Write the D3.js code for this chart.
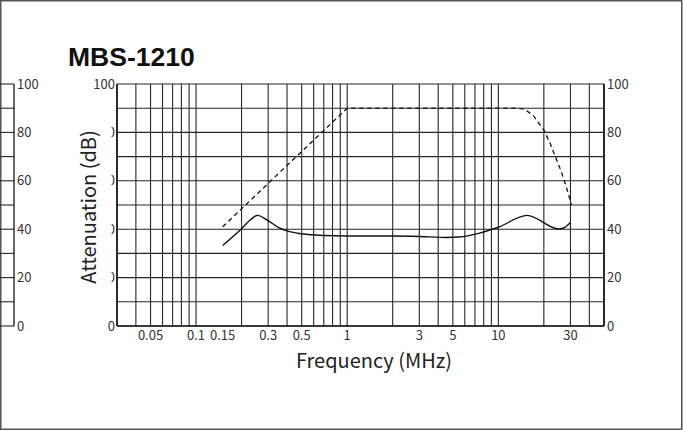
<!DOCTYPE html>
<html>
<head>
<meta charset="utf-8">
<script src="https://cdn.jsdelivr.net/npm/d3@7"></script>
<style>
  body { margin: 0; background: #fff; }
  svg { display: block; }
</style>
</head>
<body>
<svg id="chart" width="683" height="430"></svg>
<script>
// Tick labels on the frequency axis (MHz)
const xTicks = [0.05, 0.1, 0.15, 0.3, 0.5, 1, 3, 5, 10, 30];
const yTicks = [0, 20, 40, 60, 80, 100];

// Dashed curve (upper attenuation)
const dashedFreq = [0.15, 1, 13.5, 15, 17, 20, 22, 24, 26, 28, 30.5];
const dashedDb   = [41, 90, 90, 89.5, 87, 81, 75.5, 69.5, 64, 58, 50];

// Solid curve
const solidFreq = [0.15, 0.2, 0.23, 0.255, 0.3, 0.35, 0.4, 0.5, 0.7, 1, 2, 3, 4.5, 5.5, 7.5, 10, 15.5, 25, 27, 30];
const solidDb   = [33.3, 40.2, 44, 45.7, 43.5, 40.8, 39.3, 38.1, 37.4, 37.2, 37.2, 37, 36.6, 36.8, 38.4, 40.8, 45.7, 40.1, 40.5, 42.8];

const W = 683, H = 430;
const plot = { left: 117, right: 604, top: 84, bottom: 326 };

const svg = d3.select("#chart");

const x = d3.scaleLog().domain([0.03, 50]).range([plot.left, plot.right]);
const y = d3.scaleLinear().domain([0, 100]).range([plot.bottom, plot.top]);

const gridColor = "#262626";
const labelFont = "'Noto Sans CJK JP', 'Noto Sans', sans-serif";

// outer frame of the scanned sheet
svg.append("rect")
    .attr("x", 0.75).attr("y", 0.75)
    .attr("width", W - 2).attr("height", H - 1.5)
    .attr("fill", "none")
    .attr("stroke", "#555")
    .attr("stroke-width", 1.5);

// fragment of neighbouring chart on the left edge
const frag = svg.append("g");
d3.range(0, 101, 10).forEach(v => {
    frag.append("line")
        .attr("x1", 0).attr("x2", 14)
        .attr("y1", y(v)).attr("y2", y(v))
        .attr("stroke", gridColor).attr("stroke-width", 1.1);
});
frag.append("line")
    .attr("x1", 14).attr("x2", 14)
    .attr("y1", y(100)).attr("y2", y(0))
    .attr("stroke", gridColor).attr("stroke-width", 1.4);
frag.selectAll("text")
    .data(yTicks)
    .enter().append("text")
    .attr("x", 17)
    .attr("y", d => y(d))
    .attr("dy", "0.36em")
    .style("font-family", labelFont)
    .style("font-size", "13px")
    .style("fill", "#333")
    .text(d => d);

// vertical grid: every integer multiple within each decade
const vLines = [];
[0.01, 0.1, 1, 10].forEach(dec => {
    for (let k = 1; k <= 9; k++) {
        const f = +(dec * k).toPrecision(3);
        if (f >= 0.03 && f <= 50) vLines.push(f);
    }
});

const grid = svg.append("g");
grid.selectAll(".vgrid")
    .data(vLines)
    .enter().append("line")
    .attr("class", "vgrid")
    .attr("x1", d => x(d)).attr("x2", d => x(d))
    .attr("y1", plot.top).attr("y2", plot.bottom)
    .attr("stroke", gridColor)
    .attr("stroke-width", 1.1);

grid.selectAll(".hgrid")
    .data(d3.range(0, 101, 10))
    .enter().append("line")
    .attr("class", "hgrid")
    .attr("x1", plot.left).attr("x2", plot.right)
    .attr("y1", d => y(d)).attr("y2", d => y(d))
    .attr("stroke", gridColor)
    .attr("stroke-width", 1.1);

// axis frame lines a touch heavier
svg.append("line")
    .attr("x1", plot.left).attr("x2", plot.left)
    .attr("y1", plot.top).attr("y2", plot.bottom)
    .attr("stroke", "#1a1a1a").attr("stroke-width", 1.7);
svg.append("line")
    .attr("x1", plot.right).attr("x2", plot.right)
    .attr("y1", plot.top).attr("y2", plot.bottom)
    .attr("stroke", "#1a1a1a").attr("stroke-width", 1.7);
svg.append("line")
    .attr("x1", plot.left).attr("x2", plot.right)
    .attr("y1", plot.bottom).attr("y2", plot.bottom)
    .attr("stroke", "#1a1a1a").attr("stroke-width", 1.5);

// x tick labels
svg.append("g").selectAll("text")
    .data(xTicks)
    .enter().append("text")
    .attr("x", d => x(d))
    .attr("y", plot.bottom + 14)
    .attr("text-anchor", "middle")
    .style("font-family", labelFont)
    .style("font-size", "13px")
    .style("fill", "#333")
    .text(d => d);

// left y labels (mostly hidden behind the title patch in the original)
svg.append("g").selectAll("text")
    .data(yTicks)
    .enter().append("text")
    .attr("x", plot.left - 2)
    .attr("y", d => y(d))
    .attr("dy", "0.36em")
    .attr("text-anchor", "end")
    .style("font-family", labelFont)
    .style("font-size", "13px")
    .style("fill", "#333")
    .text(d => d);

// right y labels
svg.append("g").selectAll("text")
    .data(yTicks)
    .enter().append("text")
    .attr("x", plot.right + 3)
    .attr("y", d => y(d))
    .attr("dy", "0.36em")
    .style("font-family", labelFont)
    .style("font-size", "13px")
    .style("fill", "#333")
    .text(d => d);

// white patch behind the y title, covering the inner labels
svg.append("rect")
    .attr("x", 70).attr("y", y(87))
    .attr("width", 41.5).attr("height", y(13) - y(87))
    .attr("fill", "#fff");

// curves
const line = d3.line()
    .x(d => x(d[0]))
    .y(d => y(d[1]));

svg.append("path")
    .datum(d3.zip(dashedFreq, dashedDb))
    .attr("d", line.curve(d3.curveLinear))
    .attr("fill", "none")
    .attr("stroke", "#111")
    .attr("stroke-width", 1.3)
    .attr("stroke-dasharray", "4.5,3.5");

svg.append("path")
    .datum(d3.zip(solidFreq, solidDb))
    .attr("d", line.curve(d3.curveMonotoneX))
    .attr("fill", "none")
    .attr("stroke", "#111")
    .attr("stroke-width", 1.4);

// titles
svg.append("text")
    .attr("x", 68)
    .attr("y", 66)
    .style("font-family", "'Liberation Sans', Arial, sans-serif")
    .style("font-weight", "bold")
    .style("font-size", "26.5px")
    .style("fill", "#111")
    .text("MBS-1210");

svg.append("text")
    .attr("x", 374)
    .attr("y", 368)
    .attr("text-anchor", "middle")
    .style("font-family", labelFont)
    .style("font-size", "20px")
    .style("fill", "#222")
    .text("Frequency (MHz)");

svg.append("text")
    .attr("transform", `translate(96, ${(plot.top + plot.bottom) / 2 + 2}) rotate(-90)`)
    .attr("text-anchor", "middle")
    .style("font-family", labelFont)
    .style("font-size", "20px")
    .style("fill", "#222")
    .text("Attenuation (dB)");
</script>
</body>
</html>
